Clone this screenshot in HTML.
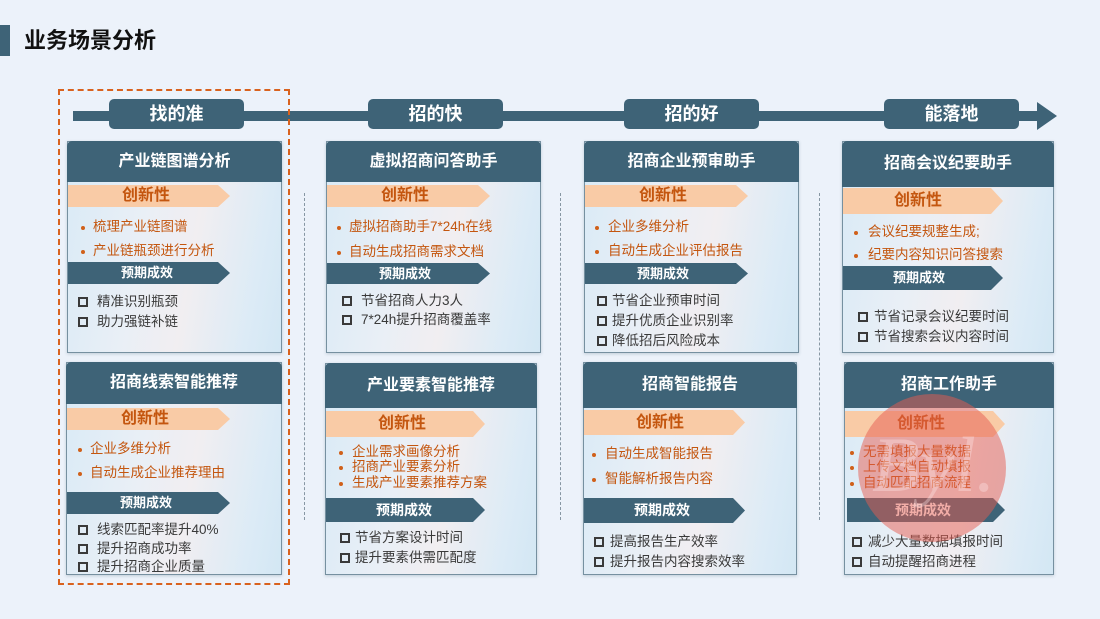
<!DOCTYPE html>
<html><head><meta charset="utf-8">
<style>
*{margin:0;padding:0;box-sizing:border-box}
html,body{width:1100px;height:619px;overflow:hidden}
body{position:relative;background:#ecf2fa;font-family:"Liberation Sans","Noto Sans CJK SC",sans-serif}
.a{position:absolute;white-space:nowrap}
.card{position:absolute;border:1.5px solid #7690a0;background:linear-gradient(100deg,#d9eaf6 0%,#e9eff6 35%,#f1eef1 58%,#dcebf6 85%,#d3e7f4 100%);box-shadow:0 1px 3px rgba(60,90,110,.25)}
.hdr{position:absolute;background:#3e6377;border-radius:5px 5px 0 0;color:#fff;font-weight:700;font-size:16px;text-align:center}
.inn{position:absolute;background:#f9cba6;color:#c4560f;font-weight:700;font-size:16px;line-height:22px}
.res{position:absolute;background:#3e6377;color:#fff;font-weight:700;font-size:13px}
.b{position:absolute;color:#c4560f;font-size:13.5px;line-height:18px;white-space:nowrap}
.b:before{content:"";position:absolute;left:var(--d);top:8px;width:4px;height:4px;border-radius:50%;background:#d0601a}
.r{position:absolute;color:#3a3a3a;font-size:13.5px;line-height:18px;white-space:nowrap}
.cb{position:absolute;width:10px;height:10px;border:2px solid #3a3a3a}
.pill{position:absolute;top:99px;height:30px;width:135px;background:#3e6377;border-radius:5px;color:#fff;font-weight:700;font-size:18px;line-height:30px;text-align:center}
.sep{position:absolute;top:193px;height:327px;width:0;border-left:1.5px dashed #8797a3}
</style></head><body>

<!-- title -->
<div class="a" style="left:0;top:25px;width:10px;height:31px;background:#3e6377"></div>
<div class="a" style="left:24px;top:27px;font-size:22px;font-weight:700;color:#111;line-height:28px">业务场景分析</div>

<!-- timeline -->
<div class="a" style="left:73px;top:111px;width:950px;height:10px;background:#3e6377"></div>
<svg class="a" style="left:1017px;top:101px" width="42" height="30"><polygon points="0,10 20,10 20,1 40,15 20,29 20,20 0,20" fill="#3e6377"/></svg>
<div class="pill" style="left:109px">找的准</div>
<div class="pill" style="left:368px">招的快</div>
<div class="pill" style="left:624px">招的好</div>
<div class="pill" style="left:884px">能落地</div>

<!-- separators -->
<div class="sep" style="left:304px"></div>
<div class="sep" style="left:560px"></div>
<div class="sep" style="left:819px"></div>

<!-- dashed orange frame -->
<div class="a" style="left:58px;top:89px;width:232px;height:496px;border:2px dashed #d9621e"></div>

<!-- CARD 1 -->
<div class="card" style="left:67px;top:141px;width:215px;height:212px"></div>
<div class="hdr" style="left:67px;top:141px;width:215px;height:41px;line-height:41px">产业链图谱分析</div>
<div class="inn" style="left:68px;top:185px;width:162px;height:22px;clip-path:polygon(0 0,150px 0,100% 50%,150px 100%,0 100%);padding-left:54px">创新性</div>
<div class="b" style="left:93px;top:218px;--d:-12px">梳理产业链图谱</div>
<div class="b" style="left:93px;top:242px;--d:-12px">产业链瓶颈进行分析</div>
<div class="res" style="left:68px;top:262px;width:162px;height:22px;line-height:22px;clip-path:polygon(0 0,150px 0,100% 50%,150px 100%,0 100%);padding-left:53px">预期成效</div>
<div class="cb" style="left:78px;top:297px"></div><div class="r" style="left:97px;top:293px">精准识别瓶颈</div>
<div class="cb" style="left:78px;top:317px"></div><div class="r" style="left:97px;top:313px">助力强链补链</div>

<!-- CARD 2 -->
<div class="card" style="left:66px;top:362px;width:216px;height:213px;overflow:hidden"></div>
<div class="hdr" style="left:66px;top:362px;width:216px;height:42px;line-height:42px">招商线索智能推荐</div>
<div class="inn" style="left:67px;top:408px;width:163px;height:22px;clip-path:polygon(0 0,151px 0,100% 50%,151px 100%,0 100%);padding-left:54px">创新性</div>
<div class="b" style="left:90px;top:440px;--d:-12px">企业多维分析</div>
<div class="b" style="left:90px;top:464px;--d:-12px">自动生成企业推荐理由</div>
<div class="res" style="left:67px;top:492px;width:163px;height:22px;line-height:22px;clip-path:polygon(0 0,151px 0,100% 50%,151px 100%,0 100%);padding-left:53px">预期成效</div>
<div class="cb" style="left:78px;top:525px"></div><div class="r" style="left:97px;top:521px">线索匹配率提升40%</div>
<div class="cb" style="left:78px;top:544px"></div><div class="r" style="left:97px;top:540px">提升招商成功率</div>
<div class="cb" style="left:78px;top:562px"></div><div class="r" style="left:97px;top:558px;height:16px;overflow:hidden">提升招商企业质量</div>

<!-- CARD 3 -->
<div class="card" style="left:326px;top:141px;width:215px;height:212px"></div>
<div class="hdr" style="left:326px;top:141px;width:215px;height:41px;line-height:41px">虚拟招商问答助手</div>
<div class="inn" style="left:327px;top:185px;width:163px;height:22px;clip-path:polygon(0 0,151px 0,100% 50%,151px 100%,0 100%);padding-left:54px">创新性</div>
<div class="b" style="left:349px;top:218px;--d:-12px">虚拟招商助手7*24h在线</div>
<div class="b" style="left:349px;top:243px;--d:-12px">自动生成招商需求文档</div>
<div class="res" style="left:327px;top:263px;width:163px;height:21px;line-height:21px;clip-path:polygon(0 0,151px 0,100% 50%,151px 100%,0 100%);padding-left:52px">预期成效</div>
<div class="cb" style="left:342px;top:296px"></div><div class="r" style="left:361px;top:292px">节省招商人力3人</div>
<div class="cb" style="left:342px;top:315px"></div><div class="r" style="left:361px;top:311px">7*24h提升招商覆盖率</div>

<!-- CARD 4 -->
<div class="card" style="left:325px;top:363px;width:212px;height:212px"></div>
<div class="hdr" style="left:325px;top:363px;width:212px;height:45px;line-height:45px">产业要素智能推荐</div>
<div class="inn" style="left:326px;top:411px;width:159px;height:26px;line-height:26px;clip-path:polygon(0 0,147px 0,100% 50%,147px 100%,0 100%);padding-left:52px">创新性</div>
<div class="b" style="left:352px;top:443px;--d:-13px">企业需求画像分析</div>
<div class="b" style="left:352px;top:458px;--d:-13px">招商产业要素分析</div>
<div class="b" style="left:352px;top:474px;--d:-13px">生成产业要素推荐方案</div>
<div class="res" style="left:326px;top:498px;width:159px;height:24px;line-height:24px;font-size:14px;clip-path:polygon(0 0,147px 0,100% 50%,147px 100%,0 100%);padding-left:50px">预期成效</div>
<div class="cb" style="left:340px;top:533px"></div><div class="r" style="left:355px;top:529px">节省方案设计时间</div>
<div class="cb" style="left:340px;top:553px"></div><div class="r" style="left:355px;top:549px">提升要素供需匹配度</div>

<!-- CARD 5 -->
<div class="card" style="left:584px;top:141px;width:215px;height:212px"></div>
<div class="hdr" style="left:584px;top:141px;width:215px;height:41px;line-height:41px">招商企业预审助手</div>
<div class="inn" style="left:585px;top:185px;width:163px;height:22px;clip-path:polygon(0 0,151px 0,100% 50%,151px 100%,0 100%);padding-left:54px">创新性</div>
<div class="b" style="left:608px;top:218px;--d:-13px">企业多维分析</div>
<div class="b" style="left:608px;top:242px;--d:-13px">自动生成企业评估报告</div>
<div class="res" style="left:585px;top:263px;width:163px;height:21px;line-height:21px;clip-path:polygon(0 0,151px 0,100% 50%,151px 100%,0 100%);padding-left:52px">预期成效</div>
<div class="cb" style="left:597px;top:296px"></div><div class="r" style="left:612px;top:292px">节省企业预审时间</div>
<div class="cb" style="left:597px;top:316px"></div><div class="r" style="left:612px;top:312px">提升优质企业识别率</div>
<div class="cb" style="left:597px;top:336px"></div><div class="r" style="left:612px;top:332px">降低招后风险成本</div>

<!-- CARD 6 -->
<div class="card" style="left:583px;top:362px;width:214px;height:213px"></div>
<div class="hdr" style="left:583px;top:362px;width:214px;height:46px;line-height:46px">招商智能报告</div>
<div class="inn" style="left:584px;top:410px;width:161px;height:25px;line-height:25px;clip-path:polygon(0 0,149px 0,100% 50%,149px 100%,0 100%);padding-left:52px">创新性</div>
<div class="b" style="left:605px;top:445px;--d:-13px">自动生成智能报告</div>
<div class="b" style="left:605px;top:470px;--d:-13px">智能解析报告内容</div>
<div class="res" style="left:584px;top:498px;width:161px;height:25px;line-height:25px;font-size:14px;clip-path:polygon(0 0,149px 0,100% 50%,149px 100%,0 100%);padding-left:50px">预期成效</div>
<div class="cb" style="left:594px;top:537px"></div><div class="r" style="left:610px;top:533px">提高报告生产效率</div>
<div class="cb" style="left:594px;top:557px"></div><div class="r" style="left:610px;top:553px">提升报告内容搜索效率</div>

<!-- CARD 7 -->
<div class="card" style="left:842px;top:141px;width:212px;height:212px"></div>
<div class="hdr" style="left:842px;top:141px;width:212px;height:46px;line-height:46px">招商会议纪要助手</div>
<div class="inn" style="left:843px;top:188px;width:160px;height:26px;line-height:26px;clip-path:polygon(0 0,148px 0,100% 50%,148px 100%,0 100%);padding-left:51px">创新性</div>
<div class="b" style="left:868px;top:223px;--d:-14px">会议纪要规整生成;</div>
<div class="b" style="left:868px;top:246px;--d:-14px">纪要内容知识问答搜索</div>
<div class="res" style="left:843px;top:266px;width:160px;height:24px;line-height:24px;clip-path:polygon(0 0,148px 0,100% 50%,148px 100%,0 100%);padding-left:50px">预期成效</div>
<div class="cb" style="left:858px;top:312px"></div><div class="r" style="left:874px;top:308px">节省记录会议纪要时间</div>
<div class="cb" style="left:858px;top:332px"></div><div class="r" style="left:874px;top:328px">节省搜索会议内容时间</div>

<!-- CARD 8 -->
<div class="card" style="left:844px;top:362px;width:210px;height:213px"></div>
<div class="hdr" style="left:844px;top:362px;width:210px;height:46px;line-height:46px">招商工作助手</div>
<div class="inn" style="left:845px;top:411px;width:160px;height:26px;line-height:26px;clip-path:polygon(0 0,148px 0,100% 50%,148px 100%,0 100%);padding-left:52px">创新性</div>
<div class="b" style="left:863px;top:443px;--d:-13px">无需填报大量数据</div>
<div class="b" style="left:863px;top:458px;--d:-13px">上传文档自动填报</div>
<div class="b" style="left:863px;top:474px;--d:-13px">自动匹配招商流程</div>
<div class="res" style="left:847px;top:498px;width:158px;height:24px;line-height:24px;font-size:14px;clip-path:polygon(0 0,146px 0,100% 50%,146px 100%,0 100%);padding-left:48px">预期成效</div>
<div class="cb" style="left:852px;top:537px"></div><div class="r" style="left:868px;top:533px">减少大量数据填报时间</div>
<div class="cb" style="left:852px;top:557px"></div><div class="r" style="left:868px;top:553px">自动提醒招商进程</div>

<!-- watermark -->
<div class="a" style="left:858px;top:394px;width:148px;height:148px;border-radius:50%;background:rgba(230,92,80,0.5)"></div>
<div class="a" style="left:872px;top:415px;font-family:'Liberation Serif',serif;font-style:italic;font-size:78px;line-height:100px;color:rgba(255,235,235,0.35)">Byl.</div>

</body></html>
